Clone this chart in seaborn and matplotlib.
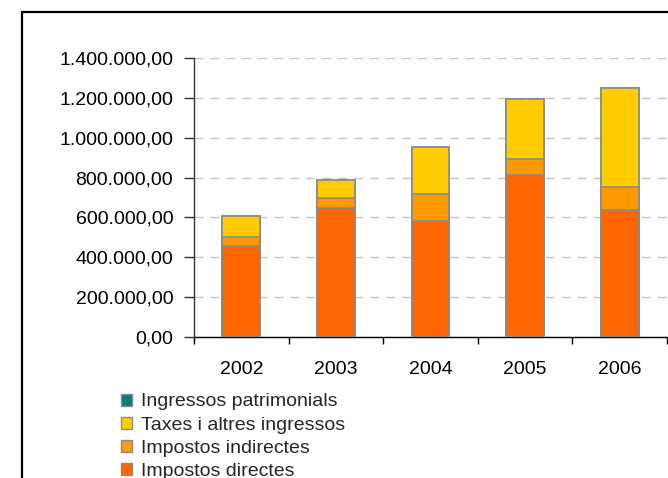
import numpy as np
import pandas as pd
import matplotlib
matplotlib.use("Agg")
import matplotlib.pyplot as plt
from matplotlib.patches import Rectangle, Patch
from matplotlib.ticker import FuncFormatter, MultipleLocator
import seaborn as sns

years = ["2002", "2003", "2004", "2005", "2006"]
impostos_directes = [455000, 647000, 582000, 815000, 635000]
impostos_indirectes = [46000, 50000, 137000, 78000, 119000]
taxes_altres = [106000, 89000, 235000, 302000, 496000]
ingressos_patrimonials = [1000, 1000, 1000, 1000, 1000]

series_names = ["Impostos directes", "Impostos indirectes",
                "Taxes i altres ingressos", "Ingressos patrimonials"]
series_values = [impostos_directes, impostos_indirectes, taxes_altres, ingressos_patrimonials]
colors = ["#FF6600", "#FF9900", "#FFCC00", "#008080"]

sns.set_style("white")
plt.rcParams["font.family"] = ["Liberation Sans", "DejaVu Sans"]

fig = plt.figure(figsize=(6.68, 4.78), dpi=100)
ax = fig.add_axes([194 / 668, (478 - 336.7) / 478, (667 - 194) / 668, (336.7 - 58.3) / 478])

cum = np.cumsum(np.array(series_values, dtype=float), axis=0)
# draw from top of stack down so each segment overlays the previous
for i in range(len(series_names) - 1, -1, -1):
    df = pd.DataFrame({"year": years, "value": cum[i]})
    sns.barplot(data=df, x="year", y="value", color=colors[i], width=0.4,
                edgecolor="#8a8a8a", linewidth=1.2, saturation=1, ax=ax, zorder=3)

ax.set_xlim(-0.5, 4.5)
ax.set_ylim(0, 1400000)
ax.yaxis.set_major_locator(MultipleLocator(200000))


def euro_fmt(v, pos):
    s = f"{v:,.2f}"
    return s.replace(",", "X").replace(".", ",").replace("X", ".")


ax.yaxis.set_major_formatter(FuncFormatter(euro_fmt))
ax.set_xlabel("")
ax.set_ylabel("")
ax.grid(axis="y", color="#c4c4c4", linestyle=(0, (6.5, 5)), linewidth=1.0, zorder=0)
ax.set_axisbelow(True)

for side in ["top", "right"]:
    ax.spines[side].set_visible(False)
ax.spines["left"].set_color("#333333")
ax.spines["bottom"].set_color("#000000")
ax.spines["left"].set_linewidth(1.0)
ax.spines["bottom"].set_linewidth(1.0)

# x ticks at category boundaries, labels centered
ax.set_xticks([-0.5, 0.5, 1.5, 2.5, 3.5, 4.5])
ax.set_xticklabels([])
ax.set_xticks(range(len(years)), minor=True)
ax.set_xticklabels(years, minor=True)
ax.tick_params(axis="x", which="major", direction="out", length=5, width=1, color="#000000", bottom=True)
ax.tick_params(axis="x", which="minor", length=0, pad=17.8, labelsize=14, colors="#000000")
ax.tick_params(axis="y", direction="out", length=7, width=1, color="#333333", left=True,
               pad=8, labelsize=14, labelcolor="#000000")

handles = [Patch(facecolor=colors[i], edgecolor="#8a8a8a", linewidth=1.0, label=series_names[i])
           for i in range(len(series_names) - 1, -1, -1)]
fig.legend(handles=handles, loc="upper left", bbox_to_anchor=(121 / 668, (478 - 393.5) / 478),
           frameon=False, fontsize=14, handlelength=0.59, handleheight=0.59,
           handletextpad=0.42, labelspacing=0.32, borderaxespad=0, borderpad=0)

fig.add_artist(Rectangle((22 / 668, -0.1), 1.2, 0.1 + (478 - 12) / 478,
                         transform=fig.transFigure, fill=False, edgecolor="#000000",
                         linewidth=1.6))

fig.savefig("out.png", dpi=100)
